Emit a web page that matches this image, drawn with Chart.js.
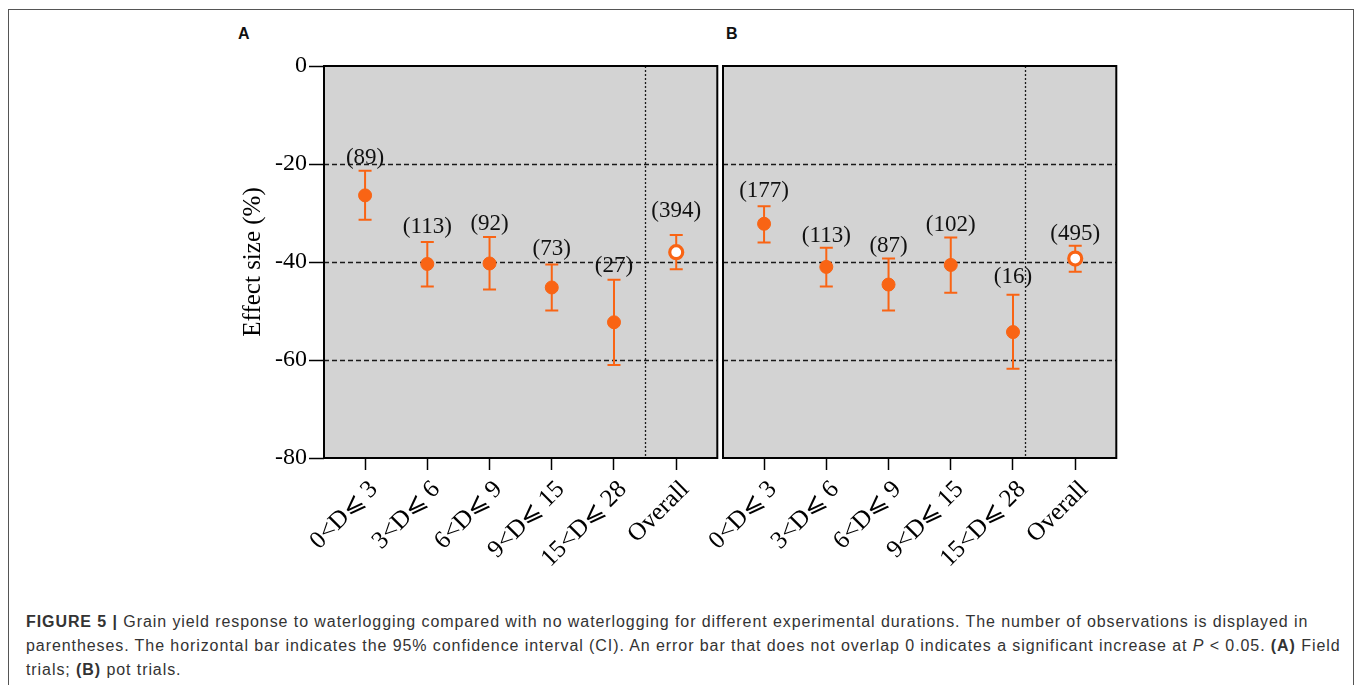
<!DOCTYPE html>
<html>
<head>
<meta charset="utf-8">
<script src="https://cdn.jsdelivr.net/npm/chart.js@4.4.1/dist/chart.umd.min.js"></script>
<style>
	body { margin: 0; background: #fff; width: 1358px; height: 685px; overflow: hidden; position: relative; font-family: "Liberation Sans", Arial, sans-serif; }
	#frame { position: absolute; left: 8px; top: 9px; width: 1346px; height: 720px; border: 1px solid #555; box-sizing: border-box; }
	.letter { position: absolute; font: bold 16px "Liberation Sans", Arial, sans-serif; color: #111; }
	#caption { position: absolute; left: 26px; top: 610px; font-size: 16px; letter-spacing: 0.92px; line-height: 24px; color: #333; white-space: nowrap; }
	canvas { position: absolute; }
</style>
</head>
<body>
<div id="frame"></div>
<div class="letter" style="left:238px;top:25px;">A</div>
<div class="letter" style="left:726px;top:25px;">B</div>
<canvas id="chartA" width="507" height="558" style="left:220px;top:40px;"></canvas>
<canvas id="chartB" width="446" height="558" style="left:680px;top:40px;"></canvas>
<div id="caption"><b>FIGURE 5 |</b> Grain yield response to waterlogging compared with no waterlogging for different experimental durations. The number of observations is displayed in<br>parentheses. The horizontal bar indicates the 95% confidence interval (CI). An error bar that does not overlap 0 indicates a significant increase at <i>P</i> &lt; 0.05. <b>(A)</b> Field<br>trials; <b>(B)</b> pot trials.</div>
<script>
// duration classes
const categories = [ '0<D⩽ 3', '3<D⩽ 6', '6<D⩽ 9', '9<D⩽ 15', '15<D⩽ 28', 'Overall' ];
const yTicks = [ 0, -20, -40, -60, -80 ];

// A: field trials
const fieldMean = [ -26.4, -40.4, -40.3, -45.2, -52.3, -38.0 ];
const fieldLow = [ -31.4, -45.0, -45.6, -49.9, -61.0, -41.5 ];
const fieldHigh = [ -21.4, -35.9, -34.9, -40.5, -43.6, -34.5 ];
const fieldN = [ 89, 113, 92, 73, 27, 394 ];

// B: pot trials
const potMean = [ -32.2, -41.0, -44.6, -40.6, -54.3, -39.3 ];
const potLow = [ -36.0, -45.0, -49.9, -46.3, -61.8, -42.0 ];
const potHigh = [ -28.6, -37.1, -39.3, -35.0, -46.7, -36.7 ];
const potN = [ 177, 113, 87, 102, 16, 495 ];

const ORANGE = '#f96414';
const SERIF = '"Liberation Serif", "Times New Roman", serif';

Chart.defaults.font.family = SERIF;
Chart.defaults.color = '#000';

const panelPlugin = {
	id: 'panel',
	beforeDraw( chart, args, opts ) {
		const { ctx, chartArea: a, scales } = chart;
		ctx.save();
		ctx.fillStyle = '#d3d3d3';
		ctx.fillRect( a.left, a.top, a.right - a.left, a.bottom - a.top );

		ctx.strokeStyle = '#1a1a1a';
		ctx.lineWidth = 1.5;
		ctx.setLineDash( [ 5, 3 ] );
		yTicks.slice( 1, -1 ).forEach( ( v ) => {
			const y = Math.round( scales.y.getPixelForValue( v ) ) + 0.5;
			ctx.beginPath();
			ctx.moveTo( a.left, y );
			ctx.lineTo( a.right, y );
			ctx.stroke();
		} );

		ctx.lineWidth = 1.3;
		ctx.setLineDash( [ 2, 2 ] );
		const x = Math.round( scales.x.getPixelForValue( opts.divider ) ) + 0.5;
		ctx.beginPath();
		ctx.moveTo( x, a.top );
		ctx.lineTo( x, a.bottom );
		ctx.stroke();
		ctx.restore();
	},
	beforeDatasetsDraw( chart, args, opts ) {
		const { ctx, scales } = chart;
		ctx.save();
		ctx.strokeStyle = ORANGE;
		ctx.lineWidth = 2;
		opts.low.forEach( ( lo, i ) => {
			const x = scales.x.getPixelForValue( i );
			const y1 = scales.y.getPixelForValue( lo );
			const y2 = scales.y.getPixelForValue( opts.high[ i ] );
			ctx.beginPath();
			ctx.moveTo( x, y1 );
			ctx.lineTo( x, y2 );
			ctx.moveTo( x - 6.5, y1 );
			ctx.lineTo( x + 6.5, y1 );
			ctx.moveTo( x - 6.5, y2 );
			ctx.lineTo( x + 6.5, y2 );
			ctx.stroke();
		} );
		ctx.restore();
	},
	afterDatasetsDraw( chart, args, opts ) {
		const { ctx, chartArea: a, scales } = chart;
		ctx.save();
		ctx.font = '23px ' + SERIF;
		ctx.fillStyle = '#111';
		ctx.textAlign = 'center';
		ctx.textBaseline = 'middle';
		opts.counts.forEach( ( n, i ) => {
			const x = scales.x.getPixelForValue( i );
			const y = scales.y.getPixelForValue( opts.high[ i ] ) - opts.lift[ i ];
			ctx.fillText( '(' + n + ')', x, y );
		} );

		ctx.strokeStyle = '#000';
		ctx.lineWidth = 2;
		ctx.strokeRect( a.left, a.top, a.right - a.left, a.bottom - a.top );
		ctx.restore();
	},
};

function makePanel( id, mean, low, high, counts, cfg ) {
	return new Chart( document.getElementById( id ), {
		type: 'scatter',
		data: {
			datasets: [
				{
					data: mean.map( ( m, i ) => ( { x: i, y: m } ) ),
					pointRadius: 6.5,
					pointBackgroundColor: mean.map( ( m, i ) => ( i === mean.length - 1 ? '#fff' : ORANGE ) ),
					pointBorderColor: ORANGE,
					pointBorderWidth: mean.map( ( m, i ) => ( i === mean.length - 1 ? 3.2 : 1 ) ),
				},
			],
		},
		options: {
			responsive: false,
			animation: false,
			events: [],
			layout: { padding: cfg.padding },
			plugins: {
				legend: { display: false },
				tooltip: { enabled: false },
				panel: { divider: cfg.divider, low, high, counts, lift: cfg.lift },
			},
			scales: {
				x: {
					type: 'linear',
					min: -0.66,
					max: 5.66,
					afterBuildTicks: ( s ) => {
						s.ticks = categories.map( ( c, i ) => ( { value: i } ) );
					},
					afterFit: ( s ) => {
						s.height = 140;
					},
					ticks: {
						autoSkip: false,
						minRotation: 45,
						maxRotation: 45,
						padding: 5,
						labelOffset: 9,
						font: { size: 25 },
						callback: ( v, i ) => categories[ i ],
					},
					grid: {
						drawOnChartArea: false,
						drawTicks: true,
						tickLength: 12,
						tickColor: '#000',
						tickWidth: 1.5,
					},
					border: { display: false },
				},
				y: {
					min: -80,
					max: 0,
					afterBuildTicks: ( s ) => {
						s.ticks = yTicks.map( ( v ) => ( { value: v } ) );
					},
					afterFit: ( s ) => {
						s.width = cfg.yWidth;
					},
					ticks: {
						display: cfg.showY,
						padding: 2,
						font: { size: 24 },
					},
					grid: {
						display: cfg.showY,
						drawOnChartArea: false,
						tickLength: 15,
						tickColor: '#000',
						tickWidth: 1.5,
					},
					border: { display: false },
					title: {
						display: cfg.showY,
						text: 'Effect size (%)',
						font: { size: 25 },
						padding: { top: 3, bottom: 0 },
					},
				},
			},
		},
		plugins: [ panelPlugin ],
	} );
}

makePanel( 'chartA', fieldMean, fieldLow, fieldHigh, fieldN, {
	padding: { left: 15, right: 4, top: 26, bottom: 0 },
	yWidth: 89,
	showY: true,
	divider: 4.5,
	lift: [ 13, 15, 13, 15, 14, 24 ],
} );

makePanel( 'chartB', potMean, potLow, potHigh, potN, {
	padding: { left: 0, right: 4, top: 26, bottom: 0 },
	yWidth: 43,
	showY: false,
	divider: 4.2,
	lift: [ 15, 12, 13, 13, 18, 12 ],
} );
</script>
</body>
</html>
